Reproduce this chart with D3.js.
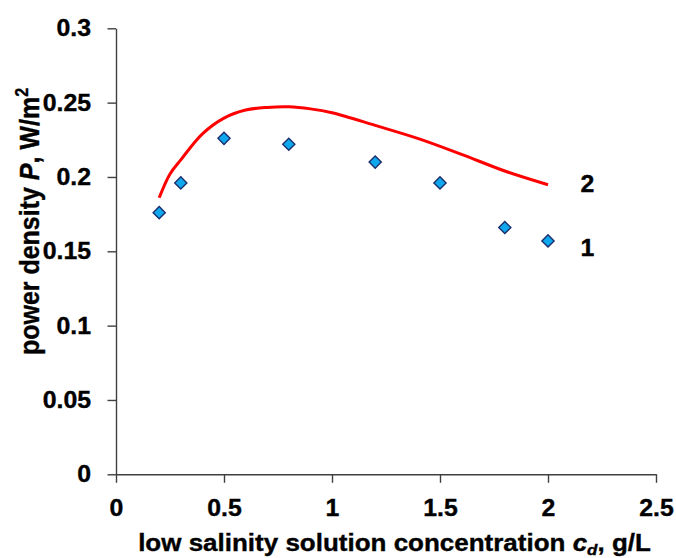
<!DOCTYPE html>
<meta charset="utf-8">
<script src="https://d3js.org/d3.v7.min.js"></script>
<style>
html, body { margin: 0; padding: 0; background: #fff; }
text { font-family: "Liberation Sans", Arial, sans-serif; font-weight: bold; fill: #000; stroke: #000; stroke-width: 0.35px; }
</style>
<div id="chart"></div>
<script>

// measured points (curve 1)
var cd = [0.2, 0.3, 0.5, 0.8, 1.2, 1.5, 1.8, 2.0];
var pExp = [0.176, 0.196, 0.226, 0.222, 0.210, 0.196, 0.166, 0.157];

// calculated curve (curve 2)
var cdCalc = [0.2, 0.25, 0.3, 0.4, 0.5, 0.6, 0.7, 0.8, 0.9, 1.0, 1.2, 1.4, 1.6, 1.8, 2.0];
var pCalc = [0.186, 0.202, 0.2115, 0.229, 0.2396, 0.245, 0.2468, 0.2472, 0.2458, 0.2432, 0.2347, 0.2258, 0.2152, 0.204, 0.1948];

var xTicks = [0, 0.5, 1, 1.5, 2, 2.5];
var yTicks = [0, 0.05, 0.1, 0.15, 0.2, 0.25, 0.3];

var curveLabels = ["1", "2"];
var labelAt = [[2.15, 0.1522], [2.15, 0.1956]];

var width = 676, height = 558;

var svg = d3.select("#chart").append("svg")
    .attr("width", width)
    .attr("height", height);

var x = d3.scaleLinear().domain([0, 2.5]).range([116, 656]);
var y = d3.scaleLinear().domain([0, 0.3]).range([474.3, 28.3]);

// the original text is a bit wider than Arial, so stretch it sideways
function widen(sel, k) {
  sel.attr("transform", function() {
    var tx = +d3.select(this).attr("x") || 0;
    return "translate(" + tx + ",0) scale(" + k + ",1) translate(" + (-tx) + ",0)";
  });
}

// y axis
var gy = svg.append("g")
    .attr("transform", "translate(" + x(0) + ",0)")
    .call(d3.axisLeft(y).tickValues(yTicks).tickSize(8.5).tickSizeOuter(0).tickPadding(16.5)
      .tickFormat(function(d) { return String(d); }));

// x axis
var gx = svg.append("g")
    .attr("transform", "translate(0," + y(0) + ")")
    .call(d3.axisBottom(x).tickValues(xTicks).tickSize(8.5).tickSizeOuter(0).tickPadding(16.5)
      .tickFormat(function(d) { return String(d); }));

[gx, gy].forEach(function(g) {
  g.selectAll("path, line").attr("stroke", "#404040").attr("stroke-width", 1.4);
  g.selectAll("text")
    .attr("font-family", "Liberation Sans, Arial, sans-serif")
    .attr("font-weight", "bold")
    .attr("font-size", 23)
    .attr("fill", "#000")
    .call(widen, 1.08);
});

// calculated line
var line = d3.line()
    .x(function(d, i) { return x(cdCalc[i]); })
    .y(function(d) { return y(d); })
    .curve(d3.curveCatmullRom.alpha(0.5));

svg.append("path")
    .datum(pCalc)
    .attr("d", line)
    .attr("fill", "none")
    .attr("stroke", "#ff0000")
    .attr("stroke-width", 3);

// experimental points
var diamond = d3.symbol().type(d3.symbolSquare).size(74);

svg.selectAll(".pt")
    .data(pExp)
  .enter().append("path")
    .attr("class", "pt")
    .attr("d", diamond)
    .attr("transform", function(d, i) { return "translate(" + x(cd[i]) + "," + y(d) + ") rotate(45)"; })
    .attr("fill", "#10a8ec")
    .attr("stroke", "#1b2f6e")
    .attr("stroke-width", 1.4);

// curve numbers
svg.selectAll(".lab")
    .data(curveLabels)
  .enter().append("text")
    .attr("class", "lab")
    .attr("x", function(d, i) { return x(labelAt[i][0]); })
    .attr("y", function(d, i) { return y(labelAt[i][1]); })
    .attr("dy", "0.35em")
    .attr("font-size", 23)
    .text(function(d) { return d; })
    .call(widen, 1.08);

// x title
var xt = svg.append("text")
    .attr("x", 394.5)
    .attr("y", 551)
    .attr("text-anchor", "middle")
    .attr("font-size", 23)
    .call(widen, 1.13);
xt.append("tspan").text("low salinity solution concentration ");
xt.append("tspan").attr("font-style", "italic").text("c");
xt.append("tspan").attr("font-style", "italic").attr("font-size", 15).attr("dy", 4).text("d");
xt.append("tspan").attr("dy", -4).text(", g/L");

// y title
var yt = svg.append("text")
    .attr("transform", "translate(39,221.5) scale(1.13,1) rotate(-90)")
    .attr("text-anchor", "middle")
    .attr("font-size", 25);
yt.append("tspan").text("power density ");
yt.append("tspan").attr("font-style", "italic").text("P");
yt.append("tspan").text(", W/m");
yt.append("tspan").attr("font-size", 16).attr("dy", -10).text("2");

</script>
